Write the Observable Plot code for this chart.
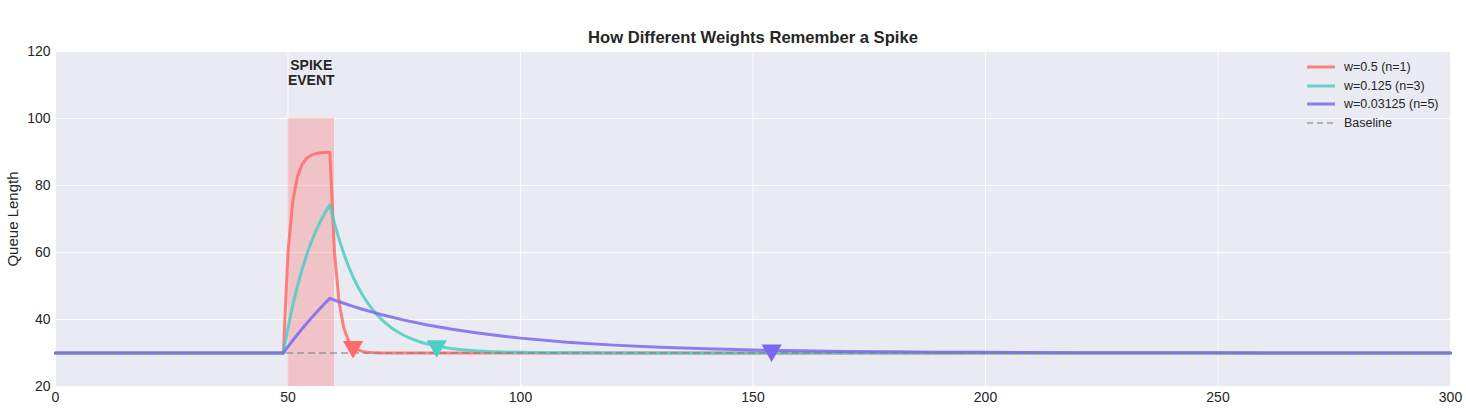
<!DOCTYPE html>
<html>
<head>
<meta charset="utf-8">
<script src="https://cdn.jsdelivr.net/npm/d3@7"></script>
<script src="https://cdn.jsdelivr.net/npm/@observablehq/plot@0.6"></script>
<style>
  body { margin: 0; background: #fff; font-family: "Liberation Sans", Arial, sans-serif; }
  #wrap { position: relative; width: 1466px; height: 411px; }
  #legend { position: absolute; left: 1306px; top: 58px; font-size: 12.5px; color: #262626; }
  .item { display: flex; align-items: center; height: 18.5px; }
  .item svg { margin-right: 8px; }
</style>
</head>
<body>
<div id="wrap"></div>
<script>
const title = "How Different Weights Remember a Spike";
const yLabel = "Queue Length";
const xTicks = [0, 50, 100, 150, 200, 250, 300];
const yTicks = [20, 40, 60, 80, 100, 120];
const baselineValue = 30;
const spikeStart = 50, spikeEnd = 60, spikeTop = 100, spikeLabelY = 110;
const spikeLabel = "SPIKE\nEVENT";

const seriesNames = ["w=0.5 (n=1)", "w=0.125 (n=3)", "w=0.03125 (n=5)"];
const seriesColors = ["#FF6B6B", "#4ECDC4", "#7B68EE"];

const redT = [0,49,50,51,52,53,54,55,56,57,58,59,60,61,62,63,64,65,66,67,68,69,70,72,75,300];
const redV = [30,30,60,75,82.5,86.25,88.13,89.06,89.53,89.77,89.88,89.94,59.97,44.99,37.49,33.75,31.87,30.94,30.47,30.23,30.12,30.06,30.03,30.01,30,30];

const tealT = [0,49,50,51,52,53,54,55,56,57,58,59,
  60,61,62,63,64,65,66,67,68,69,70,71,72,73,74,75,76,77,78,79,80,81,82,83,84,85,86,87,88,89,90,
  92,94,96,98,100,105,110,120,300];
const tealV = [30,30,37.5,44.06,49.8,54.83,59.23,63.07,66.44,69.38,71.96,74.22,
  68.69,63.86,59.62,55.92,52.68,49.85,47.37,45.19,43.3,41.63,40.18,38.91,37.79,36.82,35.97,35.22,34.57,34.0,33.5,33.06,32.68,32.34,32.05,31.79,31.57,31.37,31.2,31.05,30.92,30.81,30.71,
  30.54,30.41,30.32,30.24,30.19,30.1,30.05,30.01,30];

const purpleT = [0,49,50,51,52,53,54,55,56,57,58,59,
  60,62,64,66,68,70,75,80,85,90,95,100,110,120,130,140,150,154,160,170,180,190,200,220,250,300];
const purpleV = [30,30,31.88,33.69,35.45,37.16,38.81,40.41,41.96,43.46,44.91,46.32,
  45.81,44.84,43.93,43.07,42.26,41.51,39.82,38.38,37.15,36.1,35.2,34.44,33.23,32.35,31.71,31.25,30.91,30.8,30.66,30.48,30.35,30.26,30.19,30.1,30.04,30.01];

const markerT = [64, 82, 154];
const markerV = [31.87, 32.05, 30.8];

const seriesT = [redT, tealT, purpleT];
const seriesV = [redV, tealV, purpleV];
const lineData = seriesT.map((ts, i) => ts.map((t, j) => ({t, v: seriesV[i][j], s: i})));
const markers = markerT.map((t, i) => ({t, v: markerV[i], s: i}));

const marks = [
  Plot.frame({fill: "#EAEAF2", stroke: null}),
  Plot.gridX(xTicks, {stroke: "#fff", strokeOpacity: 0.8, strokeWidth: 1}),
  Plot.gridY(yTicks, {stroke: "#fff", strokeOpacity: 0.8, strokeWidth: 1}),
  Plot.rect([{x1: spikeStart, x2: spikeEnd, y1: yTicks[0], y2: spikeTop}],
    {x1: "x1", x2: "x2", y1: "y1", y2: "y2", fill: "#FF6B6B", fillOpacity: 0.3}),
  ...lineData.map((d, i) => Plot.line(d, {x: "t", y: "v", stroke: seriesColors[i], strokeWidth: 3, strokeOpacity: 0.85, strokeLinejoin: "round"})),
  Plot.ruleY([baselineValue], {x1: xTicks[0], x2: xTicks[xTicks.length-1], stroke: "#808080", strokeOpacity: 0.55, strokeWidth: 2, strokeDasharray: "7,4"}),
  Plot.dot(markers, {x: "t", y: "v", symbol: "triangle", rotate: 180, r: 7.5, fill: d => seriesColors[d.s], stroke: null, fillOpacity: 1}),
  Plot.text([spikeLabel], {x: (spikeStart + spikeEnd) / 2, y: spikeLabelY, text: d => d, lineAnchor: "bottom", fontWeight: "bold", fontSize: 14, lineHeight: 1.1, fill: "#262626"}),
  Plot.text([title], {frameAnchor: "top", lineAnchor: "middle", dy: -14, text: d => d, fontWeight: "bold", fontSize: 16.6, fill: "#262626"}),
  Plot.axisX({ticks: xTicks, tickSize: 0, tickPadding: 6, fontSize: 14, label: null, color: "#262626"}),
  Plot.axisY({ticks: yTicks, tickSize: 0, tickPadding: 5, fontSize: 14, label: null, color: "#262626"}),
  Plot.text([yLabel], {frameAnchor: "left", textAnchor: "middle", lineAnchor: "middle", dx: -42, rotate: -90, text: d => d, fontSize: 15, fill: "#262626"})
];

const chart = Plot.plot({
  width: 1466, height: 411,
  marginLeft: 55, marginRight: 16, marginTop: 51, marginBottom: 25,
  x: {domain: [0, 300]},
  y: {domain: [20, 120]},
  style: {fontFamily: '"Liberation Sans", Arial, sans-serif', background: "#fff", fontSize: "14px"},
  marks
});
const wrap = document.getElementById("wrap");
wrap.appendChild(chart);

const legend = document.createElement("div");
legend.id = "legend";
const entries = seriesNames.map((n, i) => ({name: n, color: seriesColors[i], dash: null, op: 0.85}))
  .concat([{name: "Baseline", color: "#808080", dash: "6,4", op: 0.55}]);
for (const e of entries) {
  const row = document.createElement("div");
  row.className = "item";
  row.innerHTML = `<svg width="30" height="6"><line x1="1" x2="29" y1="3" y2="3" stroke="${e.color}" stroke-opacity="${e.op}" stroke-width="${e.dash ? 2 : 3}" ${e.dash ? `stroke-dasharray="${e.dash}"` : ""}/></svg><span>${e.name}</span>`;
  legend.appendChild(row);
}
wrap.appendChild(legend);
</script>
</body>
</html>
